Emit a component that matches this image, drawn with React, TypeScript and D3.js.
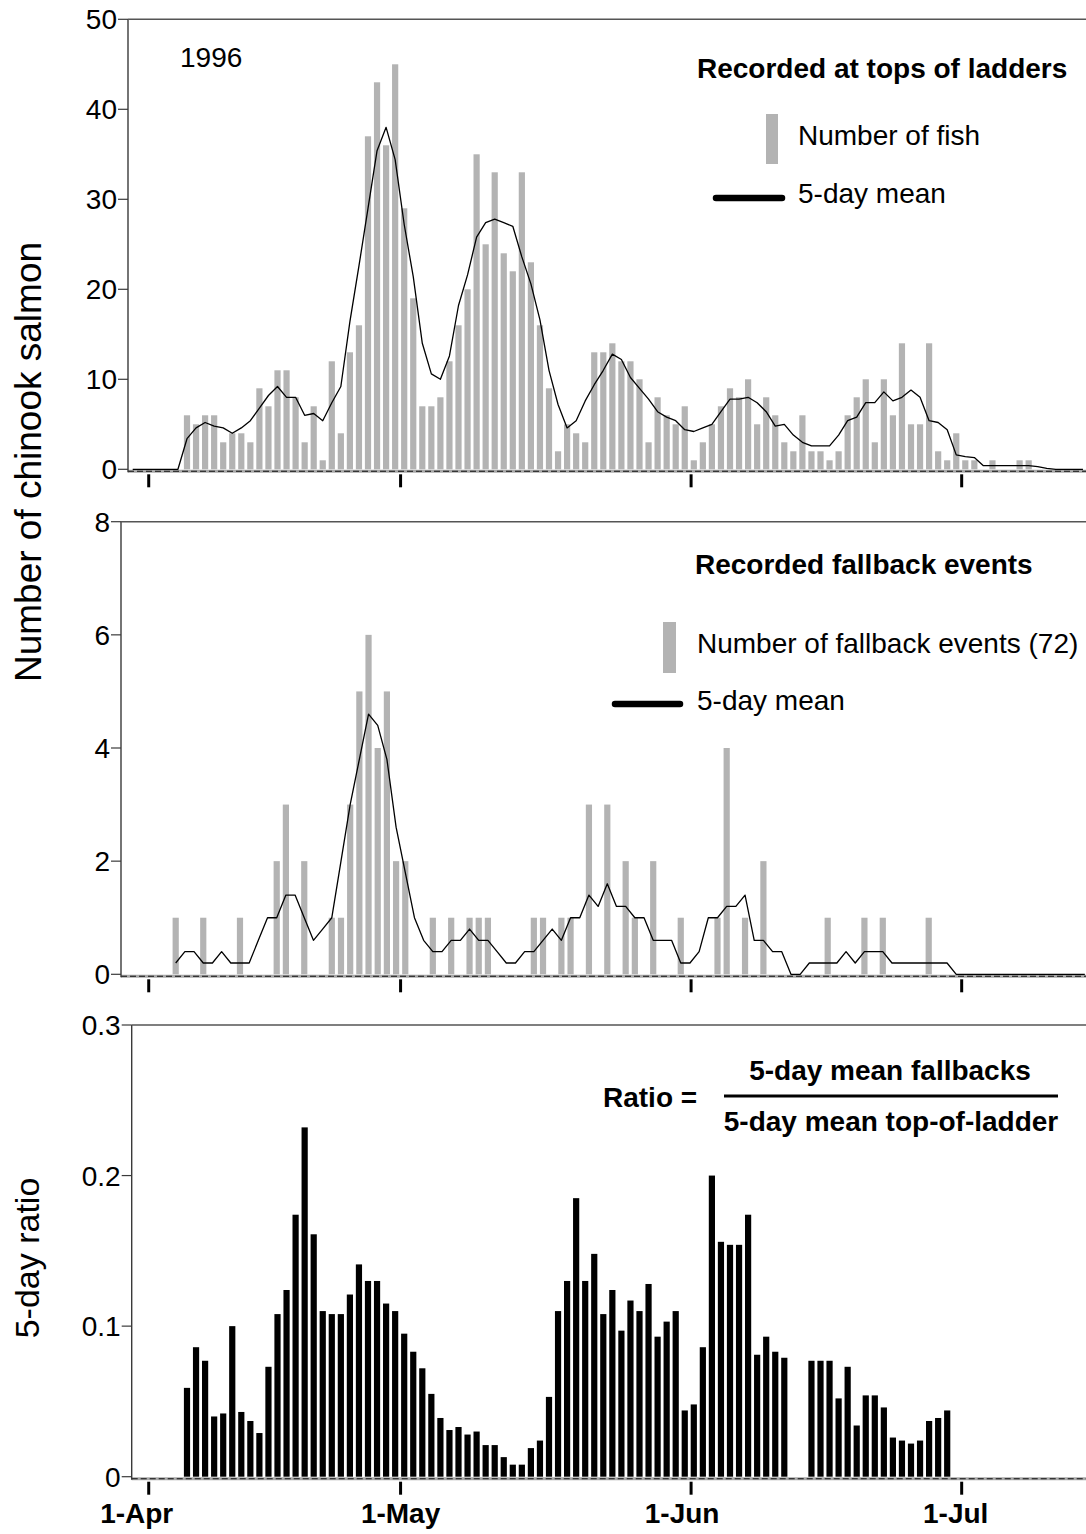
import React from "react";
import * as d3 from "d3";

// Daily counts of chinook salmon at the tops of the ladders (day 0 = start of record)
const ladderCounts = [
  0, 0, 0, 0, 0, 0, 6, 5, 6, 6,
  3, 4, 4, 3, 9, 7, 11, 11, 8, 3,
  7, 1, 12, 4, 13, 16, 37, 43, 36, 45,
  29, 19, 7, 7, 8, 12, 16, 20, 35, 25,
  33, 24, 22, 33, 23, 16, 9, 2, 5, 4,
  3, 13, 13, 14, 12, 12, 10, 3, 8, 6,
  5, 7, 1, 3, 5, 7, 9, 8, 10, 5,
  8, 6, 3, 2, 6, 2, 2, 1, 2, 6,
  8, 10, 3, 10, 6, 14, 5, 5, 14, 2,
  1, 4, 1, 1, 0, 1, 0, 0, 1, 1,
  0, 0, 0, 0, 0, 0,
];

// 5-day mean of the ladder counts
const ladderMean = [
  0, 0, 0, 0, 0, 0, 3.4, 4.6, 5.2, 4.8,
  4.6, 4.0, 4.6, 5.4, 6.8, 8.2, 9.2, 8.0, 8.0, 6.0,
  6.2, 5.4, 7.4, 9.2, 16.4, 22.6, 29.0, 35.4, 38.0, 34.4,
  27.2, 21.4, 14.0, 10.6, 10.0, 12.6, 18.2, 21.6, 25.8, 27.4,
  27.8, 27.4, 27.0, 23.6, 20.6, 16.6, 11.0, 7.2, 4.6, 5.4,
  7.6, 9.4, 11.0, 12.8, 12.2, 10.2, 9.0, 7.8, 6.4, 5.8,
  5.4, 4.4, 4.2, 4.6, 5.0, 6.4, 7.8, 7.8, 8.0, 7.4,
  6.4, 4.8, 5.0, 3.8, 3.0, 2.6, 2.6, 2.6, 3.8, 5.4,
  5.8, 7.4, 7.4, 8.6, 7.6, 8.0, 8.8, 8.0, 5.4, 5.2,
  4.4, 1.6, 1.4, 1.3, 0.4, 0.4, 0.4, 0.4, 0.4, 0.4,
  0.3, 0.1, 0, 0, 0, 0,
];

// Daily fallback events
const fallbackCounts = [
  0, 0, 0, 0, 0, 0, 1, 0, 0, 1,
  0, 0, 0, 1, 0, 0, 0, 2, 3, 0,
  2, 0, 0, 1, 1, 3, 5, 6, 4, 5,
  2, 2, 0, 0, 1, 0, 1, 0, 1, 1,
  1, 0, 0, 0, 0, 1, 1, 0, 1, 1,
  0, 3, 0, 3, 0, 2, 1, 0, 2, 0,
  0, 1, 0, 0, 0, 1, 4, 0, 1, 0,
  2, 0, 0, 0, 0, 0, 0, 1, 0, 0,
  0, 1, 0, 1, 0, 0, 0, 0, 1, 0,
  0, 0, 0, 0, 0, 0, 0, 0, 0, 0,
  0, 0, 0, 0, 0, 0,
];

// 5-day mean of fallback events (no value before the record starts)
const fallbackMean: (number | null)[] = [
  null, null, null, null, null, null, 0.2, 0.4, 0.4, 0.2,
  0.2, 0.4, 0.2, 0.2, 0.2, 0.6, 1.0, 1.0, 1.4, 1.4,
  1.0, 0.6, 0.8, 1.0, 2.0, 3.0, 3.8, 4.6, 4.4, 3.8,
  2.6, 1.8, 1.0, 0.6, 0.4, 0.4, 0.6, 0.6, 0.8, 0.6,
  0.6, 0.4, 0.2, 0.2, 0.4, 0.4, 0.6, 0.8, 0.6, 1.0,
  1.0, 1.4, 1.2, 1.6, 1.2, 1.2, 1.0, 1.0, 0.6, 0.6,
  0.6, 0.2, 0.2, 0.4, 1.0, 1.0, 1.2, 1.2, 1.4, 0.6,
  0.6, 0.4, 0.4, 0, 0, 0.2, 0.2, 0.2, 0.2, 0.4,
  0.2, 0.4, 0.4, 0.4, 0.2, 0.2, 0.2, 0.2, 0.2, 0.2,
  0.2, 0, 0, 0, 0, 0, 0, 0, 0, 0,
  0, 0, 0, 0, 0, 0,
];

// 5-day mean fallbacks / 5-day mean top-of-ladder
const ratio5day = [
  0, 0, 0, 0, 0, 0, 0.059, 0.086, 0.077, 0.040,
  0.042, 0.100, 0.043, 0.037, 0.029, 0.073, 0.108, 0.124, 0.174, 0.232,
  0.161, 0.110, 0.108, 0.108, 0.121, 0.141, 0.130, 0.130, 0.115, 0.110,
  0.095, 0.083, 0.072, 0.055, 0.039, 0.031, 0.033, 0.028, 0.030, 0.021,
  0.021, 0.013, 0.008, 0.008, 0.019, 0.024, 0.053, 0.110, 0.130, 0.185,
  0.130, 0.148, 0.108, 0.124, 0.097, 0.117, 0.110, 0.128, 0.093, 0.103,
  0.110, 0.044, 0.048, 0.086, 0.200, 0.156, 0.154, 0.154, 0.174, 0.081,
  0.093, 0.083, 0.079, 0, 0, 0.077, 0.077, 0.077, 0.052, 0.073,
  0.034, 0.054, 0.054, 0.046, 0.026, 0.024, 0.022, 0.024, 0.037, 0.039,
  0.044, 0, 0, 0, 0, 0, 0, 0, 0, 0,
  0, 0, 0, 0, 0, 0,
];

const monthLabels = ["1-Apr", "1-May", "1-Jun", "1-Jul"];
const monthTickDays = [1.77, 29.6, 61.7, 91.6];

const ladderTicks = [0, 10, 20, 30, 40, 50];
const fallbackTicks = [0, 2, 4, 6, 8];
const ratioTicks = [0, 0.1, 0.2, 0.3];

const W = 1086;
const H = 1534;
const FONT = "'Liberation Sans', Arial, Helvetica, sans-serif";
const FS = 28;
const AXIS = "#3a3a3a";
const GREY_BAR = "#b3b3b3";
const RIGHT = W + 20;
const lastDay = ladderCounts.length - 1;

// per-panel horizontal scales (day index -> px)
const xMain = d3.scaleLinear().domain([0, lastDay]).range([132.7, 132.7 + 9.05 * lastDay]);
const xMid = d3.scaleLinear().domain([0, lastDay]).range([120.6, 120.6 + 9.183 * lastDay]);

const yTop = d3.scaleLinear().domain([0, 50]).range([469.3, 19.3]);
const yMid = d3.scaleLinear().domain([0, 8]).range([974.3, 521.7]);
const yBot = d3.scaleLinear().domain([0, 0.3]).range([1476.7, 1025]);

const labelDx = [-12, 0, -9, -6];

type FrameProps = {
  axisX: number;
  y: d3.ScaleLinear<number, number>;
  ticks: number[];
  fmt: (v: number) => string;
  showMonthLabels?: boolean;
};

function Frame({ axisX, y, ticks, fmt, showMonthLabels }: FrameProps) {
  const [d0, d1] = y.domain();
  const y0 = y(d0);
  const yTopEdge = y(d1);
  return (
    <g>
      {/* zero baseline: grey band with dashes */}
      <line x1={axisX} x2={RIGHT} y1={y0 + 2} y2={y0 + 2} stroke="#a8a8a8" strokeWidth={3} />
      <line x1={axisX} x2={RIGHT} y1={y0 + 2} y2={y0 + 2} stroke="#111" strokeWidth={1.1} strokeDasharray="6 3" />
      {/* frame: left axis and top edge */}
      <line x1={axisX} x2={axisX} y1={yTopEdge} y2={y0 + 3} stroke={AXIS} strokeWidth={1.4} />
      <line x1={axisX} x2={RIGHT} y1={yTopEdge} y2={yTopEdge} stroke="#555" strokeWidth={1.4} />
      {ticks.map((t) => (
        <g key={t}>
          <line x1={axisX - 10} x2={axisX} y1={y(t)} y2={y(t)} stroke={AXIS} strokeWidth={1.2} />
          <text
            x={axisX - 11}
            y={y(t)}
            dy="0.36em"
            textAnchor="end"
            fontFamily={FONT}
            fontSize={FS}
            fill="#000"
          >
            {fmt(t)}
          </text>
        </g>
      ))}
      {monthTickDays.map((d, k) => (
        <g key={monthLabels[k]}>
          <line x1={xMain(d)} x2={xMain(d)} y1={y0 + 5} y2={y0 + 18} stroke="#000" strokeWidth={3} />
          {showMonthLabels && (
            <text
              x={xMain(d) + labelDx[k]}
              y={y0 + 46}
              textAnchor="middle"
              fontFamily={FONT}
              fontSize={FS}
              fontWeight="bold"
              fill="#000"
            >
              {monthLabels[k]}
            </text>
          )}
        </g>
      ))}
    </g>
  );
}

function Bars({
  values,
  x,
  y,
  fill,
  width,
}: {
  values: number[];
  x: d3.ScaleLinear<number, number>;
  y: d3.ScaleLinear<number, number>;
  fill: string;
  width: number;
}) {
  return (
    <g>
      {values.map((v, i) =>
        v > 0 ? (
          <rect key={i} x={x(i) - width / 2} y={y(v)} width={width} height={y(0) - y(v)} fill={fill} />
        ) : null
      )}
    </g>
  );
}

function MeanLine({
  values,
  x,
  y,
}: {
  values: (number | null)[];
  x: d3.ScaleLinear<number, number>;
  y: d3.ScaleLinear<number, number>;
}) {
  const gen = d3
    .line<number | null>()
    .defined((v) => v !== null)
    .x((_, i) => x(i))
    .y((v) => y(v as number));
  return <path d={gen(values) ?? ""} fill="none" stroke="#000" strokeWidth={1.3} strokeLinejoin="round" />;
}

export default function App() {
  const txt = { fontFamily: FONT, fontSize: FS, fill: "#000" } as const;
  return (
    <div style={{ position: "absolute", left: 0, top: 0 }}>
      <svg width={W} height={H} viewBox={`0 0 ${W} ${H}`} style={{ display: "block", background: "#fff" }}>
        <rect x={0} y={0} width={W} height={H} fill="#fff" />

        {/* Panel 1: fish at tops of ladders */}
        <Frame axisX={128} y={yTop} ticks={ladderTicks} fmt={(v) => String(v)} />
        <Bars values={ladderCounts} x={xMain} y={yTop} fill={GREY_BAR} width={6.2} />
        <MeanLine values={ladderMean} x={xMain} y={yTop} />
        <text x={180} y={67} {...txt}>1996</text>
        <text x={697} y={78} {...txt} fontWeight="bold">Recorded at tops of ladders</text>
        <rect x={766} y={114} width={12} height={50} fill={GREY_BAR} />
        <text x={798} y={145} {...txt}>Number of fish</text>
        <line x1={716} x2={782} y1={198} y2={198} stroke="#000" strokeWidth={6.5} strokeLinecap="round" />
        <text x={798} y={203} {...txt}>5-day mean</text>

        {/* Panel 2: fallback events */}
        <Frame axisX={121} y={yMid} ticks={fallbackTicks} fmt={(v) => String(v)} />
        <Bars values={fallbackCounts} x={xMid} y={yMid} fill={GREY_BAR} width={6.2} />
        <MeanLine values={fallbackMean} x={xMid} y={yMid} />
        <text x={695} y={574} {...txt} fontWeight="bold">Recorded fallback events</text>
        <rect x={663} y={622} width={13} height={51} fill={GREY_BAR} />
        <text x={697} y={653} {...txt}>Number of fallback events (72)</text>
        <line x1={615} x2={680} y1={704} y2={704} stroke="#000" strokeWidth={6.5} strokeLinecap="round" />
        <text x={697} y={710} {...txt}>5-day mean</text>

        {/* Panel 3: 5-day ratio */}
        <Frame axisX={131.7} y={yBot} ticks={ratioTicks} fmt={(v) => (v === 0 ? "0" : v.toFixed(1))} showMonthLabels />
        <Bars values={ratio5day} x={xMain} y={yBot} fill="#000" width={6.2} />
        <text x={603} y={1107} {...txt} fontWeight="bold">Ratio =</text>
        <text x={890} y={1080} {...txt} fontWeight="bold" textAnchor="middle">5-day mean fallbacks</text>
        <line x1={724} x2={1058} y1={1096} y2={1096} stroke="#000" strokeWidth={3} />
        <text x={891} y={1131} {...txt} fontWeight="bold" textAnchor="middle">5-day mean top-of-ladder</text>

        {/* y-axis titles */}
        <text
          transform="translate(41,462) rotate(-90)"
          textAnchor="middle"
          fontFamily={FONT}
          fontSize={37}
          fill="#000"
        >
          Number of chinook salmon
        </text>
        <text
          transform="translate(39,1258) rotate(-90)"
          textAnchor="middle"
          fontFamily={FONT}
          fontSize={34}
          fill="#000"
        >
          5-day ratio
        </text>
      </svg>
    </div>
  );
}
